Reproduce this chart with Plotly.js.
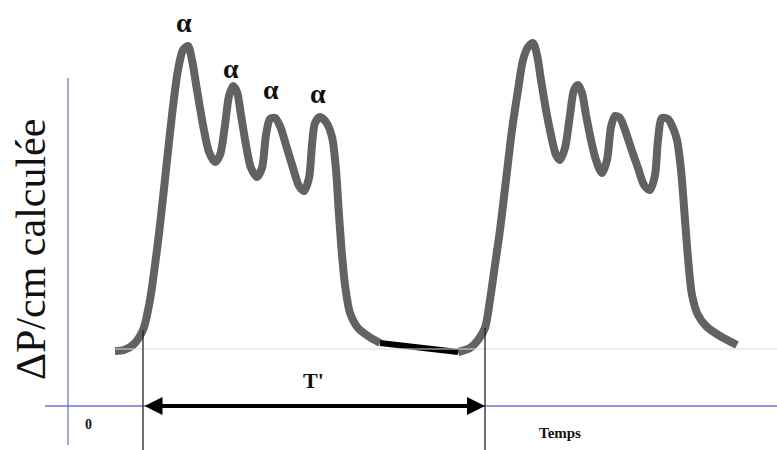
<!DOCTYPE html>
<html>
<head>
<meta charset="utf-8">
<script src="https://cdn.plot.ly/plotly-3.0.1.min.js"></script>
<style>html,body{margin:0;padding:0;background:#fff;}#chart{width:777px;height:450px;}</style>
</head>
<body>
<div id="chart"></div>
<script>
// Cycle 1 of the pressure waveform (time, ΔP/cm)
const time1 = [47,56,65,75,82,87,92,98,104,110,115,120,124,129,135,141,147,152,157,161,165,169,173,178,183,189,194,198,202,207,212,218,225,231,236,241,244,247,252,258,264,268,271,274,277,282,290,300,312];
const pressure1 = [55,56,61,76,106,141,181,236,291,336,356,360,346,316,281,254,244,251,281,310,320,314,291,261,238,229,238,271,287,288,280,261,238,220,215,228,261,283,289,284,269,236,191,151,121,93,78,70,63];
// Diastolic (rest) segment, drawn in black
const timeRest = [312,352,390];
const pressureRest = [63,58,54];
// Cycle 2
const time2 = [390,402,410,417,422,427,432,438,444,450,455,460,465,469,473,478,483,488,492,497,502,506,510,514,518,523,528,534,539,543,547,552,557,563,570,576,582,587,590,594,600,605,609,613,617,620,624,630,639,652,669];
const pressure2 = [54,58,66,78,106,141,176,226,276,316,346,359,363,351,326,296,271,251,246,258,291,316,321,313,291,266,246,233,246,279,290,288,276,258,238,221,216,231,266,288,287,278,266,236,186,148,111,91,79,70,61];
// Baseline level and period T'
const baseline = 57;
const periodStart = 75, periodEnd = 417;
// Peak labels
const alphaT = [116,163,203,250];
const alphaP = [384,338,317,313];

const serif = 'Liberation Serif';
const traces = [
  {x: time1, y: pressure1, mode: 'lines', line: {color: '#626262', width: 8, shape: 'spline', smoothing: 0.8}},
  {x: time2, y: pressure2, mode: 'lines', line: {color: '#626262', width: 8, shape: 'spline', smoothing: 0.8}},
  {x: timeRest, y: pressureRest, mode: 'lines', line: {color: '#000', width: 6}}
];

const annotations = alphaT.map((t, i) => ({
  x: t, y: alphaP[i], xref: 'x', yref: 'y', text: '<b>α</b>', showarrow: false,
  font: {family: serif, size: 28, color: '#111'}, xanchor: 'center', yanchor: 'middle'
}));
annotations.push(
  {x: periodEnd, y: 0, ax: periodStart, ay: 0, xref: 'x', yref: 'y', axref: 'x', ayref: 'y', text: '',
   showarrow: true, arrowhead: 2, arrowside: 'end+start', arrowsize: 0.9, arrowwidth: 4, arrowcolor: '#000', standoff: 0, startstandoff: 0},
  {x: 245, y: 26, xref: 'x', yref: 'y', text: "<b>T'</b>", showarrow: false, font: {family: serif, size: 22, color: '#111'}},
  {x: 20, y: -18, xref: 'x', yref: 'y', text: '<b>0</b>', showarrow: false, font: {family: serif, size: 14, color: '#111'}},
  {x: 492, y: -27, xref: 'x', yref: 'y', text: '<b>Temps</b>', showarrow: false, font: {family: serif, size: 15, color: '#111'}},
  {x: -37, y: 156, xref: 'x', yref: 'y', text: 'ΔP/cm calculée', textangle: -90, showarrow: false, font: {family: serif, size: 42, color: '#111'}}
);

const shapes = [
  // axes
  {type: 'line', xref: 'x', yref: 'y', x0: 0, x1: 0, y0: -39, y1: 328, line: {color: '#7378c4', width: 1.3}},
  {type: 'line', xref: 'x', yref: 'y', x0: -23, x1: 709, y0: 0, y1: 0, line: {color: '#7378c4', width: 1.3}},
  // baseline
  {type: 'line', xref: 'x', yref: 'y', x0: 47, x1: 709, y0: baseline, y1: baseline, line: {color: '#dcdcdc', width: 1}},
  // period markers
  {type: 'line', xref: 'x', yref: 'y', x0: periodStart, x1: periodStart, y0: -44, y1: 76, line: {color: '#222', width: 1.3}},
  {type: 'line', xref: 'x', yref: 'y', x0: periodEnd, x1: periodEnd, y0: -44, y1: 78, line: {color: '#222', width: 1.3}}
];

const layout = {
  width: 777, height: 450,
  margin: {l: 0, r: 0, t: 0, b: 0},
  paper_bgcolor: '#fff', plot_bgcolor: '#fff',
  showlegend: false,
  xaxis: {range: [-68, 709], visible: false, fixedrange: true},
  yaxis: {range: [-44, 406], visible: false, fixedrange: true},
  shapes: shapes, annotations: annotations, hovermode: false
};
Plotly.newPlot('chart', traces, layout, {staticPlot: true, displayModeBar: false});
</script>
</body>
</html>
